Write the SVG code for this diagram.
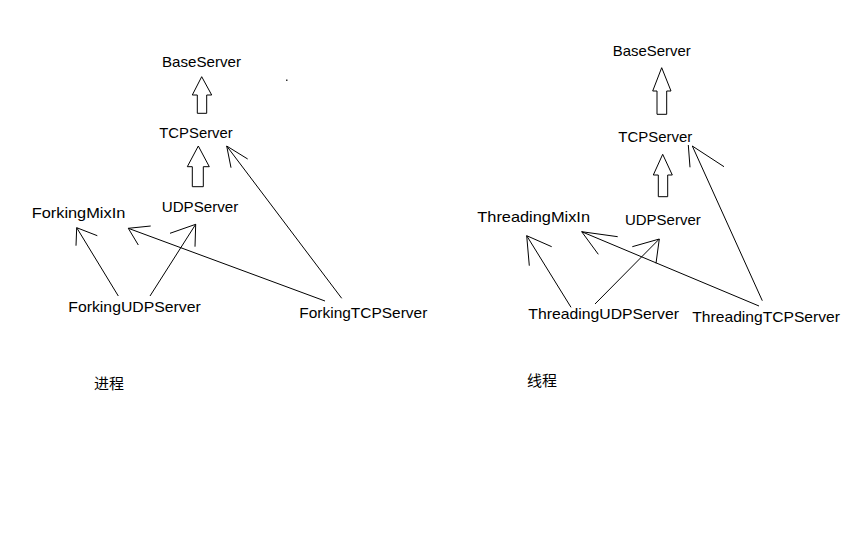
<svg xmlns="http://www.w3.org/2000/svg" width="864" height="540" viewBox="0 0 864 540">
<style>
text{font-family:"Liberation Sans",Arial,sans-serif;font-size:15px;fill:#000}
.cn{font-family:"Liberation Sans","Noto Sans CJK SC",sans-serif}
.hollow{fill:#fff;stroke:#000;stroke-width:1}
.c line,.c polyline{stroke:#000;stroke-width:1;fill:none}
</style>
<rect width="864" height="540" fill="#fff"/>
<g id="left-BaseServer"><text x="162" y="67" textLength="79" lengthAdjust="spacingAndGlyphs">BaseServer</text></g>
<g id="left-TCPServer"><text x="159.3" y="138" textLength="73.4" lengthAdjust="spacingAndGlyphs">TCPServer</text></g>
<g id="left-UDPServer"><text x="161.7" y="211.7" textLength="76.6" lengthAdjust="spacingAndGlyphs">UDPServer</text></g>
<g id="left-ForkingMixIn"><text x="31.7" y="218" textLength="93.6" lengthAdjust="spacingAndGlyphs">ForkingMixIn</text></g>
<g id="left-ForkingUDPServer"><text x="68.3" y="311.7" textLength="132.4" lengthAdjust="spacingAndGlyphs">ForkingUDPServer</text></g>
<g id="left-ForkingTCPServer"><text x="299.3" y="317.7" textLength="128" lengthAdjust="spacingAndGlyphs">ForkingTCPServer</text></g>
<g id="left-label"><text class="cn" x="94" y="389" textLength="30" lengthAdjust="spacingAndGlyphs">进程</text></g>
<g id="right-BaseServer"><text x="612.7" y="56" textLength="78" lengthAdjust="spacingAndGlyphs">BaseServer</text></g>
<g id="right-TCPServer"><text x="618.3" y="141.7" textLength="74" lengthAdjust="spacingAndGlyphs">TCPServer</text></g>
<g id="right-ThreadingMixIn"><text x="477.3" y="221.7" textLength="112.7" lengthAdjust="spacingAndGlyphs">ThreadingMixIn</text></g>
<g id="right-UDPServer"><text x="625" y="225" textLength="75.7" lengthAdjust="spacingAndGlyphs">UDPServer</text></g>
<g id="right-ThreadingUDPServer"><text x="528.3" y="319.3" textLength="150.7" lengthAdjust="spacingAndGlyphs">ThreadingUDPServer</text></g>
<g id="right-ThreadingTCPServer"><text x="692.3" y="321.7" textLength="147.7" lengthAdjust="spacingAndGlyphs">ThreadingTCPServer</text></g>
<g id="right-label"><text class="cn" x="527" y="386" textLength="30" lengthAdjust="spacingAndGlyphs">线程</text></g>
<g id="connectors" class="c">
<polygon class="hollow" points="201.7,76.7 211.7,95 206.7,95 206.7,113.3 197.3,113.3 197.3,95 192.3,95"/>
<polygon class="hollow" points="198.3,146 209.3,166.7 203.3,166.7 203.3,186.7 192.3,186.7 192.3,166.7 187.3,166.7"/>
<polygon class="hollow" points="661.7,67.7 671,91 666.7,91 666.7,114.3 657,114.3 657,91 652.7,91"/>
<polygon class="hollow" points="662.7,154.3 672.3,175 667.7,175 667.7,196.7 658.3,196.7 658.3,175 653.3,175"/>
<line x1="341.7" y1="298.3" x2="226.7" y2="146"/>
<polyline points="247.7,159 226.7,146 231,167.7"/>
<line x1="118.3" y1="296" x2="76.7" y2="227.7"/>
<polyline points="97.3,235.7 76.7,227.7 76,245.7"/>
<line x1="325" y1="301" x2="128.3" y2="228.3"/>
<polyline points="150.7,226 128.3,228.3 138.3,245"/>
<line x1="150" y1="296" x2="195.7" y2="224.3"/>
<polyline points="170,233.3 195.7,224.3 195,246.7"/>
<line x1="762.3" y1="300.7" x2="692.3" y2="146"/>
<polyline points="724,166.7 692.3,146"/>
<line x1="688.3" y1="145" x2="690" y2="167.3"/>
<line x1="571" y1="307.3" x2="526.7" y2="235.7"/>
<polyline points="551.7,246.7 526.7,235.7 529.3,265.7"/>
<line x1="759" y1="306" x2="581.7" y2="231.7"/>
<polyline points="617.7,236.7 581.7,231.7 598.3,254.3"/>
<line x1="595" y1="304" x2="659.3" y2="239"/>
<polyline points="632.3,246.7 659.3,239 656,263.3"/>
</g>
<rect x="286" y="79.5" width="1.5" height="1.5" fill="#333"/>
</svg>
